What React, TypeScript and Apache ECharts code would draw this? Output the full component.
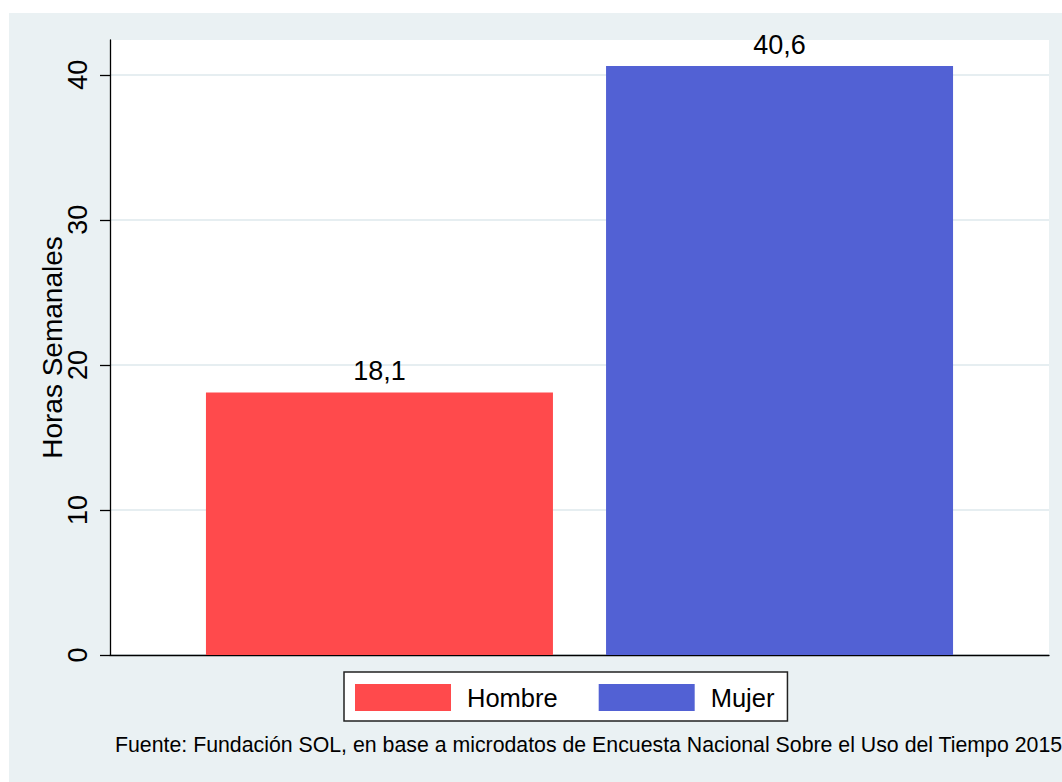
import React, { useEffect, useRef } from "react";
import * as echarts from "echarts";

const CATEGORIES = ["Hombre", "Mujer"];
const VALUES = [18.1, 40.6];
const COLORS = ["#FF4A4C", "#5261D4"];
const Y_TICKS = [0, 10, 20, 30, 40];
const Y_MAX = 42.4;
const Y_TITLE = "Horas Semanales";
const SOURCE =
  "Fuente: Fundación SOL, en base a microdatos de Encuesta Nacional Sobre el Uso del Tiempo 2015";

const FONT = "'Liberation Sans', Arial, sans-serif";

export default function App() {
  const ref = useRef<HTMLDivElement>(null);
  useEffect(() => {
    if (!ref.current) return;
    const chart = echarts.init(ref.current, null, { renderer: "svg" });
    const fmt = (v: number) => v.toFixed(1).replace(".", ",");
    chart.setOption({
      animation: false,
      backgroundColor: "#ffffff",
      textStyle: { fontFamily: FONT },
      graphic: [
        {
          type: "rect",
          z: -10,
          shape: { x: 9, y: 13, width: 1053, height: 769 },
          style: { fill: "#EAF1F3" },
        },
        {
          type: "text",
          left: 115,
          top: 734,
          style: {
            text: SOURCE,
            fontSize: 21.3,
            fontFamily: FONT,
            fill: "#000",
          },
        },
      ],
      grid: {
        left: 110,
        right: 13,
        top: 40,
        bottom: 127,
        show: true,
        backgroundColor: "#ffffff",
        borderWidth: 0,
      },
      legend: {
        data: CATEGORIES,
        left: 344,
        top: 672,
        icon: "rect",
        itemWidth: 96,
        itemHeight: 27,
        itemGap: 41,
        padding: [12, 13, 10, 11],
        backgroundColor: "#ffffff",
        borderColor: "#222",
        borderWidth: 1.5,
        borderRadius: 0,
        textStyle: {
          fontSize: 25.5,
          color: "#000",
          fontFamily: FONT,
          padding: [0, 0, 0, 11],
        },
      },
      xAxis: {
        type: "category",
        data: [""],
        axisLine: { show: true, lineStyle: { color: "#000", width: 1.3 } },
        axisTick: { show: false },
        axisLabel: { show: false },
        splitLine: { show: false },
      },
      yAxis: {
        type: "value",
        min: 0,
        max: Y_MAX,
        interval: 10,
        name: Y_TITLE,
        nameLocation: "middle",
        nameGap: 44,
        nameRotate: 90,
        nameMoveOverlap: false,
        nameTextStyle: { fontSize: 28, color: "#000", fontFamily: FONT },
        axisLine: { show: true, lineStyle: { color: "#000", width: 1.3 } },
        axisTick: {
          show: true,
          length: 10,
          customValues: Y_TICKS,
          lineStyle: { color: "#000", width: 1.3 },
        },
        axisLabel: {
          show: true,
          rotate: 90,
          margin: 19,
          fontSize: 27,
          color: "#000",
          fontFamily: FONT,
          customValues: Y_TICKS,
        },
        splitLine: {
          show: true,
          lineStyle: { color: "#E6EEF1", width: 2 },
        },
      },
      series: CATEGORIES.map((name, i) => ({
        name,
        type: "bar",
        data: [VALUES[i]],
        barWidth: 347,
        barGap: "15.3%",
        itemStyle: { color: COLORS[i] },
        label: {
          show: true,
          position: "top",
          distance: 8,
          fontSize: 27,
          color: "#000",
          fontFamily: FONT,
          formatter: (p: any) => fmt(p.value),
        },
      })),
    });
    return () => chart.dispose();
  }, []);
  return (
    <div
      ref={ref}
      style={{ position: "fixed", left: 0, top: 0, width: 1062, height: 782 }}
    />
  );
}
